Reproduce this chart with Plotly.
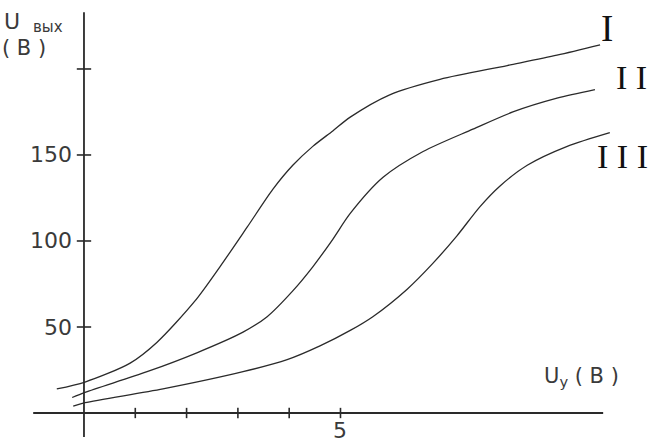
import plotly.graph_objects as go

# ---- data ----
x_I = [-0.53, 0.02, 0.90, 1.42, 2.16, 2.65, 3.18, 3.68, 4.07, 4.46, 4.85, 5.19, 5.96, 6.94, 8.25, 9.22, 10.06]
y_I = [14, 18, 29, 41, 65, 85, 108, 130, 144, 155, 164, 172, 185, 194, 202, 208, 214]

x_II = [-0.23, 0.02, 1.23, 2.20, 3.10, 3.57, 4.07, 4.46, 4.85, 5.19, 5.83, 6.61, 7.58, 8.36, 9.22, 9.96]
y_II = [9, 12, 24, 35, 47, 56, 71, 85, 101, 116, 137, 152, 165, 175, 183, 188]

x_III = [-0.21, 0.02, 1.54, 3.10, 3.96, 4.60, 5.19, 5.63, 6.30, 6.80, 7.27, 7.72, 8.11, 8.64, 9.42, 10.25]
y_III = [4, 6, 14, 24, 31, 39, 48, 56, 72, 87, 103, 120, 132, 144, 155, 163]

curve_names = ["I", "I I", "I I I"]

y_ticks = [50, 100, 150, 200]
y_tick_labels = ["50", "100", "150", ""]
x_ticks = [1, 2, 3, 4, 5]
x_tick_labels = ["", "", "", "", "5"]

x_axis_span = [-0.99, 10.12]
y_axis_span = [-14, 233]

W, H = 666, 443
X_RANGE = [-1.637, 11.345]
Y_RANGE = [-17.44, 240.1]

LINE = "#2a2a2a"
TXT = "#3a3a3a"

fig = go.Figure()
for xs, ys, nm in [(x_I, y_I, "I"), (x_II, y_II, "II"), (x_III, y_III, "III")]:
    fig.add_trace(go.Scatter(x=xs, y=ys, mode="lines", name=nm,
                             line=dict(color=LINE, width=1.3, shape="spline", smoothing=0.8),
                             showlegend=False, hoverinfo="skip"))

shapes = []
shapes.append(dict(type="line", xref="x", yref="y", x0=x_axis_span[0], x1=x_axis_span[1], y0=0, y1=0,
                   line=dict(color=LINE, width=1.8)))
shapes.append(dict(type="line", xref="x", yref="y", x0=0, x1=0, y0=y_axis_span[0], y1=y_axis_span[1],
                   line=dict(color=LINE, width=1.8)))
dx = 0.14
for v in y_ticks:
    shapes.append(dict(type="line", xref="x", yref="y", x0=-dx, x1=dx, y0=v, y1=v,
                       line=dict(color=LINE, width=1.6)))
dy = 3.0
for v in x_ticks:
    shapes.append(dict(type="line", xref="x", yref="y", x0=v, x1=v, y0=-dy, y1=dy,
                       line=dict(color=LINE, width=1.6)))

annotations = []
for v, t in zip(y_ticks, y_tick_labels):
    if t:
        annotations.append(dict(x=-0.2, y=v, xref="x", yref="y", text=t, showarrow=False,
                                xanchor="right", yanchor="middle",
                                font=dict(family="DejaVu Sans", size=22, color=TXT)))
for v, t in zip(x_ticks, x_tick_labels):
    if t:
        annotations.append(dict(x=v, y=-1.5, xref="x", yref="y", text=t, showarrow=False,
                                xanchor="center", yanchor="top",
                                font=dict(family="DejaVu Sans", size=22, color=TXT)))

# axis titles
annotations.append(dict(x=2 / W, y=1 - 7 / H, xref="paper", yref="paper", text="U",
                        showarrow=False, xanchor="left", yanchor="top",
                        font=dict(family="DejaVu Sans", size=22, color=TXT)))
annotations.append(dict(x=31 / W, y=1 - 16 / H, xref="paper", yref="paper", text="вых",
                        showarrow=False, xanchor="left", yanchor="top",
                        font=dict(family="DejaVu Sans", size=15, color=TXT)))
annotations.append(dict(x=0 / W, y=1 - 34 / H, xref="paper", yref="paper", text="( B )",
                        showarrow=False, xanchor="left", yanchor="top",
                        font=dict(family="DejaVu Sans", size=21, color=TXT)))
annotations.append(dict(x=542 / W, y=1 - 362 / H, xref="paper", yref="paper",
                        text="U<sub>y</sub> ( B )",
                        showarrow=False, xanchor="left", yanchor="top",
                        font=dict(family="DejaVu Sans", size=21, color=TXT)))

# curve labels
label_pos = [(599, 6), (614, 57), (595, 136)]
label_size = [37, 34, 34]
for nm, (px, py), sz in zip(curve_names, label_pos, label_size):
    annotations.append(dict(x=px / W, y=1 - py / H, xref="paper", yref="paper", text=nm,
                            showarrow=False, xanchor="left", yanchor="top",
                            font=dict(family="Liberation Serif", size=sz, color="#111111")))

fig.update_layout(
    width=W, height=H,
    margin=dict(l=0, r=0, t=0, b=0),
    paper_bgcolor="white", plot_bgcolor="white",
    xaxis=dict(range=X_RANGE, visible=False, fixedrange=True),
    yaxis=dict(range=Y_RANGE, visible=False, fixedrange=True),
    shapes=shapes, annotations=annotations,
)

fig.write_html("out.html", config={"displayModeBar": False},
               post_script="document.body.style.margin='0';document.body.style.padding='0';")
